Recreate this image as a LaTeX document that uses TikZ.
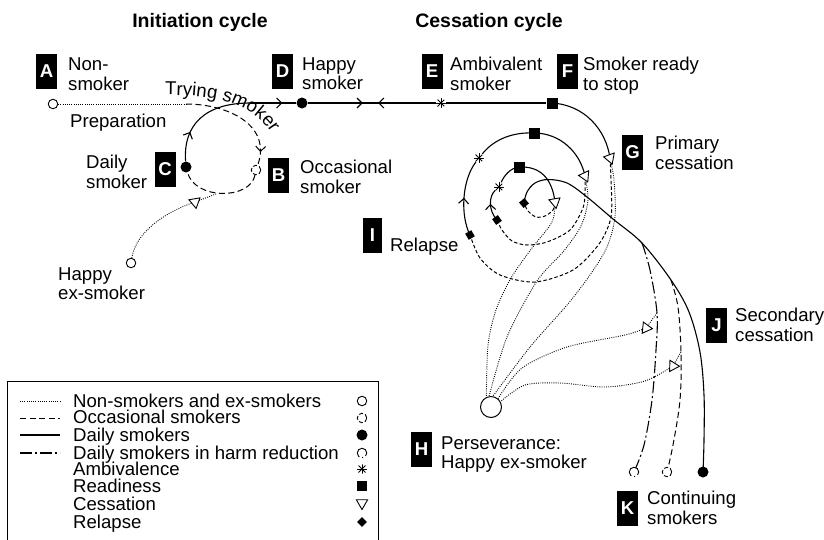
\documentclass[tikz,border=0pt]{standalone}
\usepackage{fontspec}
\setmainfont{Liberation Sans}
\usetikzlibrary{arrows.meta,decorations.markings,decorations.text,shapes.geometric,backgrounds}
\newcommand\labfont{\fontsize{18.6}{19.5}\selectfont}

\tikzset{
  barb/.tip={Straight Barb[length=5pt,width=10pt]},
  lab/.style={anchor=north west,inner sep=0pt,align=left,font=\labfont},
  lbox/.style={fill=black,text=white,font=\labfont\bfseries,minimum width=21pt,minimum height=35pt,inner sep=0pt},
  legtext/.style={anchor=base west,inner sep=0pt,font=\labfont},
  exsm/.style={circle,draw,fill=white,line width=0.9pt,minimum size=9.5pt,inner sep=0pt},
  occm/.style={circle,draw,fill=white,line width=0.9pt,dash pattern=on 4pt off 2.2pt,minimum size=9.5pt,inner sep=0pt},
  harmm/.style={circle,draw,fill=white,line width=0.9pt,dash pattern=on 19pt off 3pt on 1pt off 3pt,minimum size=9.5pt,inner sep=0pt},
  dailym/.style={circle,fill,minimum size=11pt,inner sep=0pt},
  readm/.style={rectangle,fill,minimum size=11pt,inner sep=0pt},
  relm/.style={rectangle,fill,minimum size=7pt,inner sep=0pt},
  cessm/.style={regular polygon,regular polygon sides=3,draw,fill=white,line width=0.9pt,minimum size=13pt,inner sep=0pt},
  ambm/.style={circle,minimum size=10pt,inner sep=0pt,
    path picture={\foreach \a in {0,45,90,135}
      \draw[line width=1pt] (path picture bounding box.center) ++(\a:5pt) -- ++(\a+180:10pt);}},
  exline/.style={line width=0.9pt,dash pattern=on 0.9pt off 1.3pt},
  occline/.style={line width=1pt,dash pattern=on 6pt off 3.5pt},
  relline/.style={line width=1pt,dash pattern=on 3.5pt off 2.2pt},
  dayline/.style={line width=1.1pt},
  harmline/.style={line width=1.1pt,dash pattern=on 12pt off 3pt on 2pt off 3pt},
  fwd/.style={decoration={markings,mark=at position #1 with {\arrow{barb}}},postaction={decorate}},
  meet/.style 2 args={decoration={markings,mark=at position #1 with {\arrow{barb}},
    mark=at position #2 with {\arrowreversed{barb}}},postaction={decorate}}
}

\begin{document}
\begin{tikzpicture}[x=1pt,y=1pt]
\useasboundingbox (0,0) rectangle (824,-539);

% titles
\node[font=\fontsize{19.5}{20}\selectfont\bfseries,anchor=base] (tInit) at (200,-27) {Initiation cycle};
\node[font=\fontsize{19.5}{20}\selectfont\bfseries,anchor=base] (tCess) at (489,-27) {Cessation cycle};

% letter boxes and labels
\node[lbox] (bA) at (46.5,-71.5) {A};
\node[lbox] (bD) at (282.5,-71.5) {D};
\node[lbox] (bE) at (432,-71.5) {E};
\node[lbox] (bF) at (567.5,-71.5) {F};
\node[lbox] (bG) at (632.5,-152) {G};
\node[lbox] (bB) at (278.5,-175) {B};
\node[lbox] (bC) at (165,-169.5) {C};
\node[lbox,minimum width=19pt] (bI) at (372.5,-235.5) {I};
\node[lbox] (bH) at (421.5,-449.5) {H};
\node[lbox] (bJ) at (716.5,-325) {J};
\node[lbox] (bK) at (627.5,-508.5) {K};

\node[lab] (lA) at (68,-57.5) {Non-\\smoker};
\node[lab] (lD) at (302,-57) {Happy\\smoker};
\node[lab] (lE) at (450,-57) {Ambivalent\\smoker};
\node[lab] (lF) at (583,-57) {Smoker ready\\to stop};
\node[lab] (lG) at (655,-136) {Primary\\cessation};
\node[lab] (lB) at (300,-160) {Occasional\\smoker};
\node[lab] (lC) at (86,-155) {Daily\\smoker};
\node[lab] (lI) at (390,-238) {Relapse};
\node[lab] (lH) at (441,-436) {Perseverance:\\Happy ex-smoker};
\node[lab] (lJ) at (735,-308) {Secondary\\cessation};
\node[lab] (lK) at (647,-491) {Continuing\\smokers};
\node[lab] (lX) at (58,-267) {Happy\\ex-smoker};
\node[lab] (lP) at (70,-114) {Preparation};

% initiation cycle
\node[exsm] (nA) at (53,-104) {};
\coordinate (try) at (186,-104);
\node[occm] (nB) at (256,-170) {};
\node[dailym] (nC) at (186,-167) {};
\node[dailym] (nD) at (302,-103) {};
\coordinate (cj) at (250,-103);
\node[exsm] (nX) at (131,-263) {};
\node[cessm,rotate=-50] (tX) at (195,-202) {};
\coordinate (jX) at (216,-194);

% cessation cycle
\node[ambm] (nE) at (441,-103) {};
\node[readm] (nF) at (552,-103) {};
\node[cessm,rotate=-160] (nG) at (610,-158) {};
\node[relm,rotate=30] (r1) at (470,-235) {};
\node[ambm] (a1) at (479,-158) {};
\node[readm] (s1) at (534,-133) {};
\node[cessm,rotate=-155] (t2) at (585,-176) {};
\node[relm,rotate=35] (r2) at (497,-220) {};
\node[ambm] (a2) at (499,-187) {};
\node[readm] (s2) at (519,-167) {};
\node[cessm,rotate=-170] (t3) at (555,-202) {};
\node[relm,rotate=40] (r3) at (524,-203) {};

% secondary cessation
\coordinate (bh) at (642,-243);
\coordinate (bo) at (671,-280);
\coordinate (jh) at (657,-313);
\coordinate (jo) at (681,-352);
\node[cessm,rotate=144] (t4) at (646,-328) {};
\node[cessm,rotate=148] (t5) at (673,-366) {};
\node[harmm] (k1) at (634,-472) {};
\node[occm] (k2) at (667,-472) {};
\node[dailym] (k3) at (703,-472) {};
\node[circle,draw,line width=1pt,minimum size=21pt,inner sep=0pt] (nH) at (491,-407) {};

\begin{scope}[on background layer]
\draw[exline] (nA) -- (try);
\draw[occline,fwd=0.88] (try) .. controls (228,-104) and (272,-125) .. (nB);
\draw[occline] (nB) .. controls (250,-200) and (195,-200) .. (nC);
\draw[exline] (nX) .. controls (136,-232) and (165,-212) .. (tX.center) -- (jX);
\draw[dayline,fwd=0.3] (nC) .. controls (183,-125) and (205,-103) .. (cj);
\draw[dayline,fwd=0.7] (cj) -- (nD);

\draw[dayline,meet={0.43}{0.55}] (nD) -- (nE);
\draw[dayline] (nE) -- (nF);
\draw[dayline] (nF.center) .. controls (585,-105) and (606,-130) .. (nG.center);

% spiral
\draw[dayline,fwd=0.5] (r1.center) .. controls (460,-215) and (462,-180) .. (a1);
\draw[dayline] (a1) .. controls (495,-138) and (515,-132) .. (s1.center);
\draw[dayline] (s1.center) .. controls (560,-133) and (580,-152) .. (t2.center);
\draw[dayline,fwd=0.55] (r2.center) .. controls (488,-210) and (489,-196) .. (a2);
\draw[dayline] (a2) .. controls (504,-176) and (510,-168) .. (s2.center);
\draw[dayline] (s2.center) .. controls (540,-166) and (552,-178) .. (t3.center);

\draw[relline] plot[smooth] coordinates {(nG.center) (611,-180) (611,-217) (599,-244) (573,-270) (535,-282) (500,-275) (480,-258) (r1.center)};
\draw[relline] plot[smooth] coordinates {(t2.center) (585,-192) (583,-208) (570,-230) (547,-242) (527,-245) (512,-241) (502,-230) (r2.center)};
\draw[relline] plot[smooth] coordinates {(t3.center) (553,-210) (545,-216) (536,-217) (528,-211) (r3.center)};

\draw[exline] plot[smooth] coordinates {(nG.center) (614,-180) (615,-217) (607,-247) (590,-275) (567,-305) (530,-347) (nH.80)};
\draw[exline] plot[smooth] coordinates {(t2.center) (588,-200) (581,-226) (563,-252) (537,-281) (507,-337) (nH.100)};
\draw[exline] plot[smooth] coordinates {(t3.center) (552,-222) (532,-248) (511,-278) (496,-310) (488,-345) (nH.115)};

% continuing smokers
\draw[dayline] plot[smooth,tension=0.55] coordinates {(r3.center) (527,-192) (535,-183) (548,-179.5) (567,-183) (587,-197) (613,-219) (bh) (bo) (689,-312) (700,-352) (704,-395) (704,-440) (k3.center)};
\draw[harmline] plot[smooth,tension=0.55] coordinates {(bh) (650,-270) (jh) (656,-350) (652,-400) (644,-445) (k1.center)};
\draw[occline] plot[smooth,tension=0.55] coordinates {(bo) (678,-307) (jo) (680,-400) (673,-445) (k2.center)};

\draw[exline] (jh) -- (t4.center);
\draw[exline] (jo) -- (t5.center);
\draw[exline] plot[smooth] coordinates {(t4.center) (625,-335) (567,-347) (522,-368) (nH.50)};
\draw[exline] plot[smooth] coordinates {(t5.center) (645,-381) (605,-387) (560,-383) (525,-385) (nH.30)};
\end{scope}

\path[decorate,decoration={text along path,text align=left,text={|\labfont|Trying smoker}}]
  (165,-95) .. controls (216,-95) and (263,-102) .. (279,-150);

% legend
\draw[line width=0.8pt] (7,-381) rectangle (378,-560);
\draw[exline] (20,-401) -- (60,-401);
\draw[occline] (20,-418) -- (60,-418);
\draw[dayline] (20,-435) -- (60,-435);
\draw[harmline] (20,-453) -- (60,-453);
\node[legtext] (lg1) at (73,-407) {Non-smokers and ex-smokers};
\node[legtext] (lg2) at (73,-423.5) {Occasional smokers};
\node[legtext] (lg3) at (73,-441.5) {Daily smokers};
\node[legtext] (lg4) at (73,-459.5) {Daily smokers in harm reduction};
\node[legtext] (lg5) at (73,-475) {Ambivalence};
\node[legtext] (lg6) at (73,-492.5) {Readiness};
\node[legtext] (lg7) at (73,-510) {Cessation};
\node[legtext] (lg8) at (73,-528) {Relapse};
\node[exsm] (sy1) at (362,-401) {};
\node[occm] (sy2) at (362,-418) {};
\node[dailym] (sy3) at (362,-435) {};
\node[harmm] (sy4) at (362,-453) {};
\node[ambm] (sy5) at (362,-469) {};
\node[readm,minimum size=10pt] (sy6) at (362,-486) {};
\node[cessm,rotate=180] (sy7) at (362,-503) {};
\node[relm,rotate=45] (sy8) at (362,-522) {};
\end{tikzpicture}
\end{document}
